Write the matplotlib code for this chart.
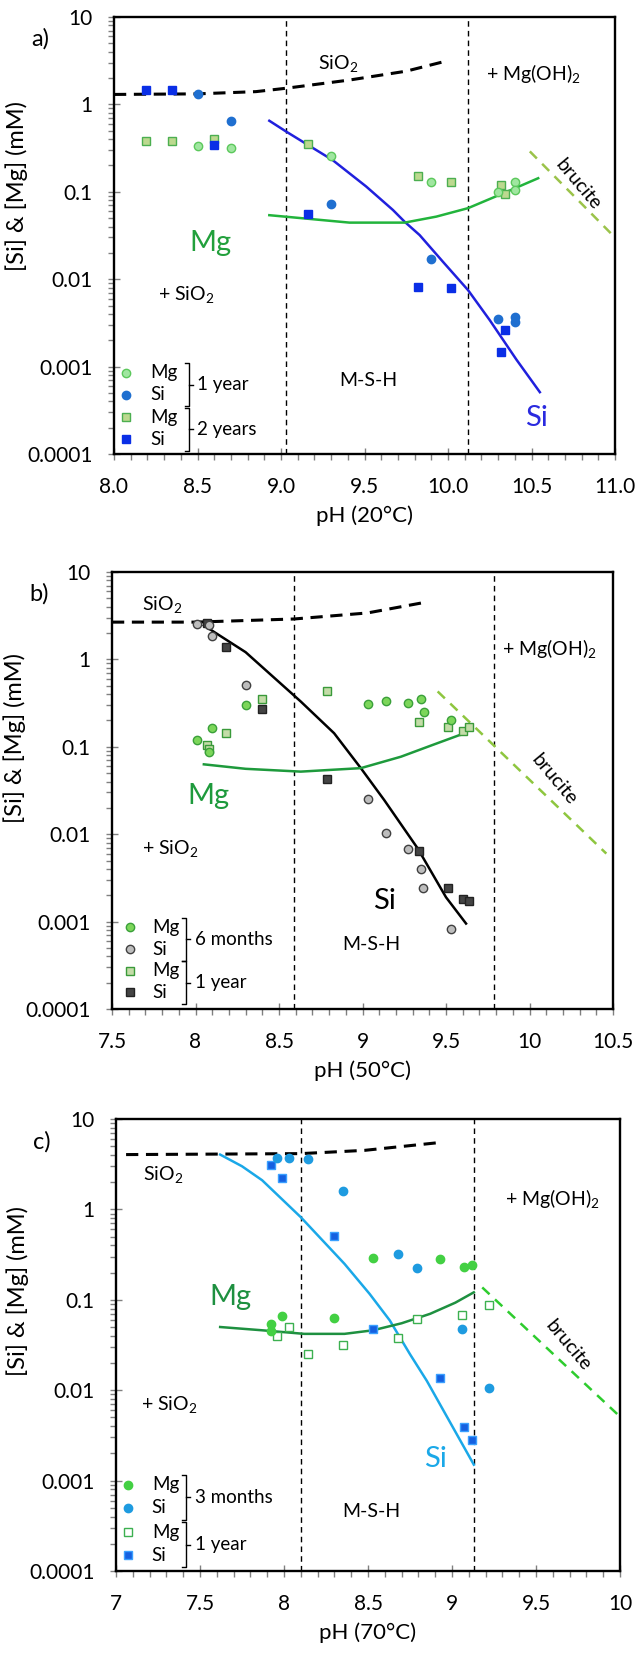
import numpy as np
import matplotlib
matplotlib.use("Agg")
from matplotlib import pyplot as plt
from matplotlib.ticker import FixedLocator, FuncFormatter, MultipleLocator, LogLocator, NullFormatter

plt.rcParams['font.family'] = ['Lato', 'DejaVu Sans']
plt.rcParams['mathtext.fontset'] = 'custom'
plt.rcParams['mathtext.rm'] = 'Lato'

# ---------------- panel a (20 C) ----------------
a_mg1_ph = [8.50, 8.70, 9.30, 9.90, 10.30, 10.40, 10.40]
a_mg1_c = [0.33, 0.32, 0.26, 0.13, 0.10, 0.13, 0.104]
a_si1_ph = [8.50, 8.70, 9.30, 9.90, 10.30, 10.40, 10.40]
a_si1_c = [1.33, 0.65, 0.072, 0.017, 0.0035, 0.0037, 0.0032]
a_mg2_ph = [8.19, 8.35, 8.60, 9.16, 9.82, 10.02, 10.32, 10.34]
a_mg2_c = [0.38, 0.38, 0.40, 0.35, 0.15, 0.13, 0.12, 0.095]
a_si2_ph = [8.19, 8.35, 8.60, 9.16, 9.82, 10.02, 10.34, 10.32]
a_si2_c = [1.46, 1.46, 0.34, 0.056, 0.0082, 0.0079, 0.00265, 0.00148]

a_sio2_ph = [8.0, 8.5, 8.85, 9.03, 9.41, 9.75, 9.98]
a_sio2_c = [1.30, 1.32, 1.40, 1.53, 1.9, 2.4, 3.1]
a_siline_ph = [8.93, 9.03, 9.31, 9.51, 9.67, 9.74, 9.83, 9.97, 10.12, 10.25, 10.41, 10.55]
a_siline_c = [0.65, 0.49, 0.23, 0.115, 0.062, 0.0455, 0.032, 0.0158, 0.0075, 0.0034, 0.0012, 0.00051]
a_mgline_ph = [8.93, 9.41, 9.74, 9.93, 10.12, 10.33, 10.54]
a_mgline_c = [0.054, 0.0444, 0.0444, 0.052, 0.065, 0.096, 0.143]
a_bruc_ph = [10.49, 11.0]
a_bruc_c = [0.29, 0.03]
a_vlines = [9.03, 10.12]

# ---------------- panel b (50 C) ----------------
b_mg1_ph = [8.01, 8.08, 8.10, 8.30, 9.03, 9.14, 9.27, 9.35, 9.37, 9.53]
b_mg1_c = [0.119, 0.088, 0.164, 0.30, 0.31, 0.33, 0.32, 0.35, 0.248, 0.20]
b_si1_ph = [8.01, 8.08, 8.10, 8.30, 9.03, 9.14, 9.27, 9.35, 9.36, 9.53]
b_si1_c = [2.56, 2.5, 1.83, 0.51, 0.0256, 0.0102, 0.0067, 0.0040, 0.0024, 0.00083]
b_mg2_ph = [8.07, 8.08, 8.18, 8.40, 8.79, 9.34, 9.51, 9.60, 9.64]
b_mg2_c = [0.104, 0.094, 0.144, 0.35, 0.43, 0.19, 0.169, 0.15, 0.169]
b_si2_ph = [8.07, 8.18, 8.40, 8.79, 9.34, 9.51, 9.60, 9.64]
b_si2_c = [2.6, 1.38, 0.27, 0.043, 0.0065, 0.0024, 0.0018, 0.0017]

b_sio2_ph = [7.5, 8.0, 8.59, 9.03, 9.375]
b_sio2_c = [2.67, 2.67, 2.9, 3.4, 4.5]
b_siline_ph = [8.05, 8.30, 8.63, 8.83, 8.99, 9.13, 9.33, 9.50, 9.62]
b_siline_c = [2.45, 1.21, 0.33, 0.143, 0.057, 0.0246, 0.0069, 0.0019, 0.00095]
b_mgline_ph = [8.05, 8.30, 8.63, 8.99, 9.23, 9.42, 9.58, 9.62]
b_mgline_c = [0.063, 0.056, 0.052, 0.057, 0.077, 0.105, 0.136, 0.141]
b_bruc_ph = [9.45, 10.46]
b_bruc_c = [0.43, 0.006]
b_vlines = [8.59, 9.79]

# ---------------- panel c (70 C) ----------------
c_mg1_ph = [7.92, 7.92, 7.99, 8.30, 8.53, 8.93, 9.07, 9.12]
c_mg1_c = [0.054, 0.045, 0.067, 0.063, 0.29, 0.28, 0.233, 0.245]
c_si1_ph = [7.96, 8.03, 8.14, 8.35, 8.68, 8.79, 9.06, 9.22]
c_si1_c = [3.74, 3.74, 3.59, 1.61, 0.32, 0.224, 0.047, 0.0107]
c_mg2_ph = [7.96, 8.03, 8.14, 8.35, 8.68, 8.79, 9.06, 9.22]
c_mg2_c = [0.040, 0.050, 0.025, 0.032, 0.038, 0.061, 0.068, 0.088]
c_si2_ph = [7.92, 7.99, 8.30, 8.53, 8.93, 9.07, 9.12]
c_si2_c = [3.08, 2.24, 0.51, 0.048, 0.0138, 0.0039, 0.0028]

c_sio2_ph = [7.06, 8.10, 8.48, 8.93]
c_sio2_c = [4.04, 4.14, 4.5, 5.5]
c_siline_ph = [7.62, 7.75, 7.87, 8.10, 8.36, 8.51, 8.63, 8.75, 8.85, 9.13]
c_siline_c = [4.04, 3.0, 2.1, 0.82, 0.25, 0.116, 0.059, 0.025, 0.0127, 0.0015]
c_mgline_ph = [7.62, 7.87, 8.12, 8.36, 8.53, 8.70, 8.87, 9.02, 9.13]
c_mgline_c = [0.050, 0.046, 0.042, 0.042, 0.046, 0.055, 0.070, 0.093, 0.121]
c_bruc_ph = [9.18, 10.0]
c_bruc_c = [0.137, 0.0051]
c_vlines = [8.10, 9.13]

ytick_vals = [0.0001, 0.001, 0.01, 0.1, 1, 10]
ytick_labels = ['0.0001', '0.001', '0.01', '0.1', '1', '10']

W, H = 638, 1655
fig = plt.figure(figsize=(W / 100, H / 100), dpi=100)


def make_axes(l, r, t, b):
    return fig.add_axes([l / W, 1 - b / H, (r - l) / W, (b - t) / H])


def style(ax, xlim, xmajor, xfmt, xlabel, panel, ylab_y):
    ax.set_yscale('log')
    ax.set_ylim(1e-4, 10)
    ax.set_xlim(*xlim)
    ax.yaxis.set_major_locator(FixedLocator(ytick_vals))
    ax.yaxis.set_major_formatter(FuncFormatter(lambda v, p: ytick_labels[ytick_vals.index(v)] if v in ytick_vals else ''))
    ax.yaxis.set_minor_locator(LogLocator(base=10, subs=np.arange(2, 10)))
    ax.yaxis.set_minor_formatter(NullFormatter())
    ax.xaxis.set_major_locator(MultipleLocator(xmajor))
    ax.xaxis.set_minor_locator(MultipleLocator(0.1))
    ax.xaxis.set_major_formatter(FuncFormatter(xfmt))
    for s in ax.spines.values():
        s.set_linewidth(1.7)
    ax.tick_params(which='major', direction='inout', length=9, width=1, labelsize=15, colors='#808080', labelcolor='black')
    ax.tick_params(which='minor', direction='out', length=4, width=1, colors='#808080')
    ax.tick_params(axis='x', which='major', pad=12)
    ax.tick_params(axis='y', which='major', pad=11)
    ax.set_xlabel(xlabel, fontsize=16, labelpad=6)
    ax.set_ylabel('[Si] & [Mg] (mM)', fontsize=17)
    ax.yaxis.set_label_coords(-0.172, ylab_y)
    ax.text(-0.165, 0.95, panel, transform=ax.transAxes, fontsize=17, va='center')


def legend_block(ax, xm, xt, xb, ys, markers, group_labels):
    for (mk, fc, ec), y, lab in zip(markers, ys, ['Mg', 'Si', 'Mg', 'Si']):
        ax.plot([xm], [y], mk, transform=ax.transAxes, ms=6, mfc=fc, mec=ec, mew=1, clip_on=False)
        ax.text(xt, y, lab, transform=ax.transAxes, fontsize=13.5, va='center')
    for k, g in enumerate(group_labels):
        y0, y1 = ys[2 * k] + 0.022, ys[2 * k + 1] - 0.027
        ax.plot([xb - 0.008, xb, xb, xb - 0.008], [y0, y0, y1, y1], color='black', lw=1, transform=ax.transAxes)
        ax.plot([xb, xb + 0.008], [(y0 + y1) / 2] * 2, color='black', lw=1, transform=ax.transAxes)
        ax.text(xb + 0.017, (y0 + y1) / 2, g, transform=ax.transAxes, fontsize=13.5, va='center')


# ---------------- panel a ----------------
ax = make_axes(114, 615, 17, 454)
style(ax, (8.0, 11.0), 0.5, lambda v, p: '%.1f' % v, 'pH (20°C)', 'a)', 0.613)
for v in a_vlines:
    ax.axvline(v, color='black', ls=(0, (4, 3)), lw=1)
ax.plot(a_sio2_ph, a_sio2_c, color='black', ls=(0, (4, 2.5)), lw=2.2)
ax.plot(a_siline_ph, a_siline_c, color='#2020dd', lw=1.8)
ax.plot(a_mgline_ph, a_mgline_c, color='#22b43c', lw=1.8)
ax.plot(a_bruc_ph, a_bruc_c, color='#9bc34a', ls=(0, (4, 3)), lw=1.8)
ax.plot(a_mg2_ph, a_mg2_c, 's', ms=6, mfc='#bcd98f', mec='#4caf50', mew=1)
ax.plot(a_mg1_ph, a_mg1_c, 'o', ms=6, mfc='#a0e6a0', mec='#5cc85c', mew=1)
ax.plot(a_si2_ph, a_si2_c, 's', ms=6, mfc='#0a2ee6', mec='#0a2ee6', mew=1)
ax.plot(a_si1_ph, a_si1_c, 'o', ms=6, mfc='#1f6fd0', mec='#1f6fd0', mew=1)
ax.text(9.34, 2.9, 'SiO$_2$', fontsize=14, ha='center', va='center')
ax.text(10.51, 2.2, '+ Mg(OH)$_2$', fontsize=14, ha='center', va='center')
ax.text(10.78, 0.12, 'brucite', fontsize=14, ha='center', va='center', rotation=-50)
ax.text(8.58, 0.026, 'Mg', fontsize=21, color='#22a03c', ha='center', va='center')
ax.text(8.43, 0.0065, '+ SiO$_2$', fontsize=14, ha='center', va='center')
ax.text(9.52, 0.0007, 'M-S-H', fontsize=14, ha='center', va='center')
ax.text(10.53, 0.00026, 'Si', fontsize=21, color='#2a2adf', ha='center', va='center')
legend_block(ax, 0.023, 0.073, 0.149, [0.186, 0.136, 0.084, 0.034],
             [('o', '#a0e6a0', '#5cc85c'), ('o', '#1f6fd0', '#1f6fd0'),
              ('s', '#bcd98f', '#4caf50'), ('s', '#0a2ee6', '#0a2ee6')],
             ['1 year', '2 years'])

# ---------------- panel b ----------------
ax = make_axes(112, 613, 572, 1009)
style(ax, (7.5, 10.5), 0.5, lambda v, p: '%g' % v, 'pH (50°C)', 'b)', 0.62)
for v in b_vlines:
    ax.axvline(v, color='black', ls=(0, (4, 3)), lw=1)
ax.plot(b_sio2_ph, b_sio2_c, color='black', ls=(0, (4, 2.5)), lw=2.2)
ax.plot(b_siline_ph, b_siline_c, color='black', lw=1.8)
ax.plot(b_mgline_ph, b_mgline_c, color='#1e9a3c', lw=1.8)
ax.plot(b_bruc_ph, b_bruc_c, color='#8ec63f', ls=(0, (4, 3)), lw=1.8)
ax.plot(b_mg2_ph, b_mg2_c, 's', ms=6, mfc='#c4dca8', mec='#3a9a3a', mew=1)
ax.plot(b_mg1_ph, b_mg1_c, 'o', ms=6, mfc='#7cd65a', mec='#3aa03a', mew=1)
ax.plot(b_si2_ph, b_si2_c, 's', ms=6, mfc='#444444', mec='#222222', mew=1)
ax.plot(b_si1_ph, b_si1_c, 'o', ms=6, mfc='#bdbdbd', mec='#404040', mew=1)
ax.text(7.8, 4.1, 'SiO$_2$', fontsize=14, ha='center', va='center')
ax.text(10.12, 1.3, '+ Mg(OH)$_2$', fontsize=14, ha='center', va='center')
ax.text(10.15, 0.042, 'brucite', fontsize=14, ha='center', va='center', rotation=-50)
ax.text(8.08, 0.027, 'Mg', fontsize=21, color='#1e9a3c', ha='center', va='center')
ax.text(7.85, 0.0067, '+ SiO$_2$', fontsize=14, ha='center', va='center')
ax.text(9.13, 0.0017, 'Si', fontsize=21, color='black', ha='center', va='center')
ax.text(9.05, 0.00054, 'M-S-H', fontsize=14, ha='center', va='center')
legend_block(ax, 0.036, 0.081, 0.148, [0.187, 0.137, 0.087, 0.038],
             [('o', '#7cd65a', '#3aa03a'), ('o', '#bdbdbd', '#404040'),
              ('s', '#c4dca8', '#3a9a3a'), ('s', '#444444', '#222222')],
             ['6 months', '1 year'])

# ---------------- panel c ----------------
ax = make_axes(116, 620, 1119, 1571)
style(ax, (7.0, 10.0), 0.5, lambda v, p: '%g' % v, 'pH (70°C)', 'c)', 0.62)
for v in c_vlines:
    ax.axvline(v, color='black', ls=(0, (4, 3)), lw=1)
ax.plot(c_sio2_ph, c_sio2_c, color='black', ls=(0, (4, 2.5)), lw=2.2)
ax.plot(c_siline_ph, c_siline_c, color='#1aa8e8', lw=1.8)
ax.plot(c_mgline_ph, c_mgline_c, color='#1e9040', lw=1.8)
ax.plot(c_bruc_ph, c_bruc_c, color='#2ecc2e', ls=(0, (4, 3)), lw=1.8)
ax.plot(c_mg2_ph, c_mg2_c, 's', ms=6, mfc='white', mec='#3cb050', mew=1)
ax.plot(c_mg1_ph, c_mg1_c, 'o', ms=6, mfc='#43d043', mec='#43d043', mew=1)
ax.plot(c_si2_ph, c_si2_c, 's', ms=6, mfc='#1560e0', mec='#3aa0ff', mew=1)
ax.plot(c_si1_ph, c_si1_c, 'o', ms=6, mfc='#1e9be0', mec='#1e9be0', mew=1)
ax.text(7.28, 2.4, 'SiO$_2$', fontsize=14, ha='center', va='center')
ax.text(9.60, 1.3, '+ Mg(OH)$_2$', fontsize=14, ha='center', va='center')
ax.text(9.69, 0.031, 'brucite', fontsize=14, ha='center', va='center', rotation=-50)
ax.text(7.68, 0.107, 'Mg', fontsize=21, color='#1e9040', ha='center', va='center')
ax.text(7.32, 0.0068, '+ SiO$_2$', fontsize=14, ha='center', va='center')
ax.text(8.90, 0.00175, 'Si', fontsize=21, color='#1aa8e8', ha='center', va='center')
ax.text(8.52, 0.00046, 'M-S-H', fontsize=14, ha='center', va='center')
legend_block(ax, 0.024, 0.071, 0.139, [0.191, 0.14, 0.086, 0.035],
             [('o', '#43d043', '#43d043'), ('o', '#1e9be0', '#1e9be0'),
              ('s', 'white', '#3cb050'), ('s', '#1560e0', '#3aa0ff')],
             ['3 months', '1 year'])

fig.savefig('out.png', dpi=100)
